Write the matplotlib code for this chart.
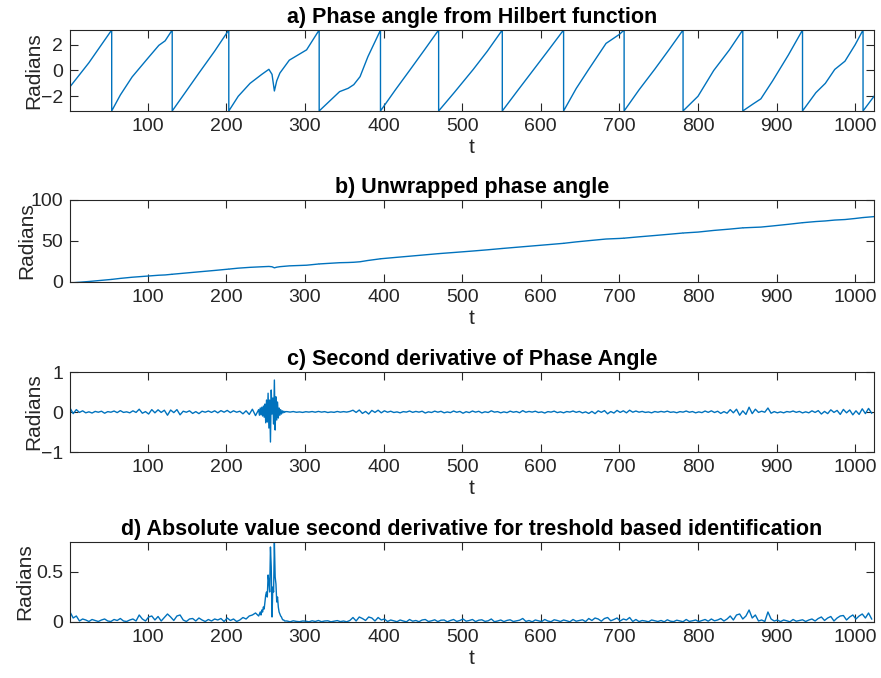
import numpy as np
from matplotlib import pyplot as plt

plt.rcParams['font.family'] = ['Liberation Sans', 'DejaVu Sans']

# a) wrapped phase angle, read point by point (wraps are listed twice: +pi then -pi)
phase_t = [1, 25, 54, 54,
           65, 80, 100, 114, 122, 131, 131,
           150, 165, 185, 203, 203,
           215, 230, 245, 254, 258, 261, 264, 268, 280, 302, 318, 318,
           344, 355, 362, 370, 380, 395, 396, 396,
           415, 433, 452, 470, 470,
           490, 514, 532, 551, 551,
           570, 590, 610, 629, 629,
           645, 660, 683, 700, 706, 706,
           725, 745, 763, 781, 781,
           800, 820, 840, 857, 857,
           870, 880, 895, 915, 933, 933,
           950, 962, 974, 987, 1000, 1010, 1010, 1024]
phase_v = [-1.26, 0.6, 3.14, -3.14,
           -1.9, -0.5, 0.95, 1.95, 2.3, 3.14, -3.14,
           -1.5, -0.2, 1.5, 3.14, -3.14,
           -2.0, -1.0, -0.3, 0.09, -0.3, -1.59, -0.8, -0.2, 0.8, 1.6, 3.14, -3.14,
           -1.64, -1.38, -1.1, -0.48, 1.07, 3.0, 3.14, -3.14,
           -1.5, 0.0, 1.6, 3.14, -3.14,
           -1.7, 0.08, 1.5, 3.14, -3.14,
           -1.6, 0.0, 1.6, 3.14, -3.14,
           -1.4, 0.0, 2.1, 2.8, 3.14, -3.14,
           -1.5, 0.1, 1.6, 3.14, -3.14,
           -2.0, 0.0, 1.6, 3.14, -3.14,
           -2.6, -2.2, -0.8, 1.2, 3.14, -3.14,
           -1.72, -1.0, 0.08, 0.72, 2.0, 3.14, -3.14, -2.0]

# c) second derivative, read in three stretches
d2_quiet1 = [0.10, -0.04, 0.06, -0.01, 0.03, -0.02, 0.005, -0.025, 0.015, -0.005,
             0.02, -0.03, 0.01, -0.005, 0.025, -0.015, 0.035, -0.01, 0.005, -0.02,
             0.03, -0.01, 0.07, -0.03, 0.01, -0.05, 0.06, -0.02, 0.055, -0.01,
             0.045, -0.08, 0.05, -0.015, 0.06, -0.07, 0.02, -0.005, 0.03, -0.035,
             0.01, -0.04, 0.02, -0.005, 0.025, -0.01, 0.03, -0.02, 0.035, -0.005,
             0.04, -0.015, 0.03, -0.005, 0.02, -0.045, 0.03, -0.06, 0.07, -0.09]
d2_burst = [0.06, -0.08, 0.10, -0.07, 0.12, -0.10, 0.15, -0.13, 0.20, -0.27,
            0.30, -0.25, 0.47, -0.40, 0.30, -0.75, 0.55, -0.05, 0.35, -0.30,
            0.80, -0.45, 0.38, -0.20, 0.25, -0.15, 0.10, -0.08, 0.06, -0.05,
            0.03, -0.02, 0.02, -0.01, 0.01]
d2_quiet2 = [0.01, -0.002, 0.012, -0.006, 0.003, -0.01, 0.008, -0.002, 0.012, -0.005,
             0.015, -0.003, 0.01, -0.012, 0.002, -0.008, 0.014, -0.004, 0.01, -0.002,
             0.015,
             0.045, -0.01, 0.05, -0.035, 0.015, -0.05, 0.04, -0.01, 0.045, -0.02,
             0.03,
             -0.005, 0.02, -0.012, 0.003, -0.02, 0.01, -0.002, 0.025, -0.008, 0.015,
             -0.003, 0.02, -0.025, 0.005, -0.012, 0.022, -0.004, 0.018, -0.02, 0.002,
             -0.015, 0.025, -0.006, 0.015,
             -0.03, 0.008, -0.015, 0.025, -0.004, 0.018, -0.022, 0.006, -0.012, 0.03,
             -0.003, 0.01, -0.02, 0.004, -0.016, 0.022, -0.005, 0.012, -0.018, 0.035,
             -0.006, 0.015, -0.002, 0.02, -0.012, 0.004, -0.025, 0.01, -0.003, 0.022,
             -0.015, 0.005, -0.02, 0.012, -0.002, 0.025, -0.008, 0.015, -0.022, 0.004,
             -0.035, 0.015, -0.04, 0.03, -0.008, 0.035, -0.045, 0.012, -0.025, 0.04,
             -0.01, 0.03, -0.02, 0.045, -0.005, 0.025,
             -0.004, 0.015, -0.01, 0.002, -0.02, 0.012, -0.005, 0.015, -0.002, 0.022,
             -0.008, 0.004, -0.018, 0.01, -0.003, 0.025, -0.006, 0.012, -0.02, 0.004,
             -0.015, 0.025, -0.008, 0.03, -0.012, 0.02, -0.035, 0.01, -0.03,
             0.06, -0.02, 0.07, -0.08, 0.03, -0.06, 0.12, -0.04, 0.07, -0.01,
             0.02, -0.005,
             0.10, -0.03, 0.01, -0.02, 0.004, -0.02, 0.012, -0.002, 0.025, -0.008,
             0.015, -0.022, 0.005, -0.02, 0.03, -0.01,
             0.035, -0.05, 0.015, -0.04, 0.055, -0.01, 0.04, -0.06, 0.065, -0.02,
             0.05, -0.07, 0.03, -0.06, 0.08, -0.04, 0.09, -0.03]

titles = ['a) Phase angle from Hilbert function',
          'b) Unwrapped phase angle',
          'c) Second derivative of Phase Angle',
          'd) Absolute value second derivative for treshold based identification']

# unwrap: add 2*pi for every wrap passed
phase_t = np.array(phase_t)
phase_v = np.array(phase_v)
wraps = np.concatenate([[0], np.cumsum(np.diff(phase_v) < -np.pi)])
unwrapped = phase_v + 2 * np.pi * wraps

d2_t = np.concatenate([1 + 4 * np.arange(len(d2_quiet1)),
                       241 + np.arange(len(d2_burst)),
                       277 + 4 * np.arange(len(d2_quiet2))])
d2_v = np.array(d2_quiet1 + d2_burst + d2_quiet2)

col = '#0072BD'
fig = plt.figure(figsize=(8.81, 6.78), dpi=100)
boxes = [[0.0795, 0.8363, 0.9126, 0.1195],
         [0.0795, 0.5841, 0.9126, 0.1210],
         [0.0795, 0.3333, 0.9126, 0.1180],
         [0.0795, 0.0826, 0.9126, 0.1180]]
axs = [fig.add_axes(b) for b in boxes]

axs[0].plot(phase_t, phase_v, color=col, lw=1.0)
axs[0].set_ylim(-np.pi, np.pi)
axs[0].set_yticks([-2, 0, 2])

axs[1].plot(phase_t, unwrapped, color=col, lw=1.0)
axs[1].set_ylim(0, 100)
axs[1].set_yticks([0, 50, 100])

axs[2].plot(d2_t, d2_v, color=col, lw=1.0)
axs[2].set_ylim(-1, 1)
axs[2].set_yticks([-1, 0, 1])

axs[3].plot(d2_t, np.abs(d2_v), color=col, lw=1.0)
axs[3].set_ylim(0, 0.8)
axs[3].set_yticks([0, 0.5])
axs[3].set_yticklabels(['0', '0.5'])

label_x = [-0.0336, -0.042, -0.0336, -0.0448]
for ax, ttl, lx in zip(axs, titles, label_x):
    ax.set_xlim(1, 1024)
    ax.set_xticks(range(100, 1001, 100))
    ax.set_title(ttl, fontsize=15.5, fontweight='bold', pad=5)
    ax.set_xlabel('t', fontsize=15, color='#262626', labelpad=2)
    ax.set_ylabel('Radians', fontsize=15, color='#262626')
    ax.yaxis.set_label_coords(lx, 0.5)
    ax.tick_params(direction='in', length=6, width=0.8, top=True, right=True,
                   labelsize=14, colors='#262626', pad=5)
    for s in ax.spines.values():
        s.set_color('#262626')
        s.set_linewidth(0.8)

fig.savefig('out.png', dpi=100)
